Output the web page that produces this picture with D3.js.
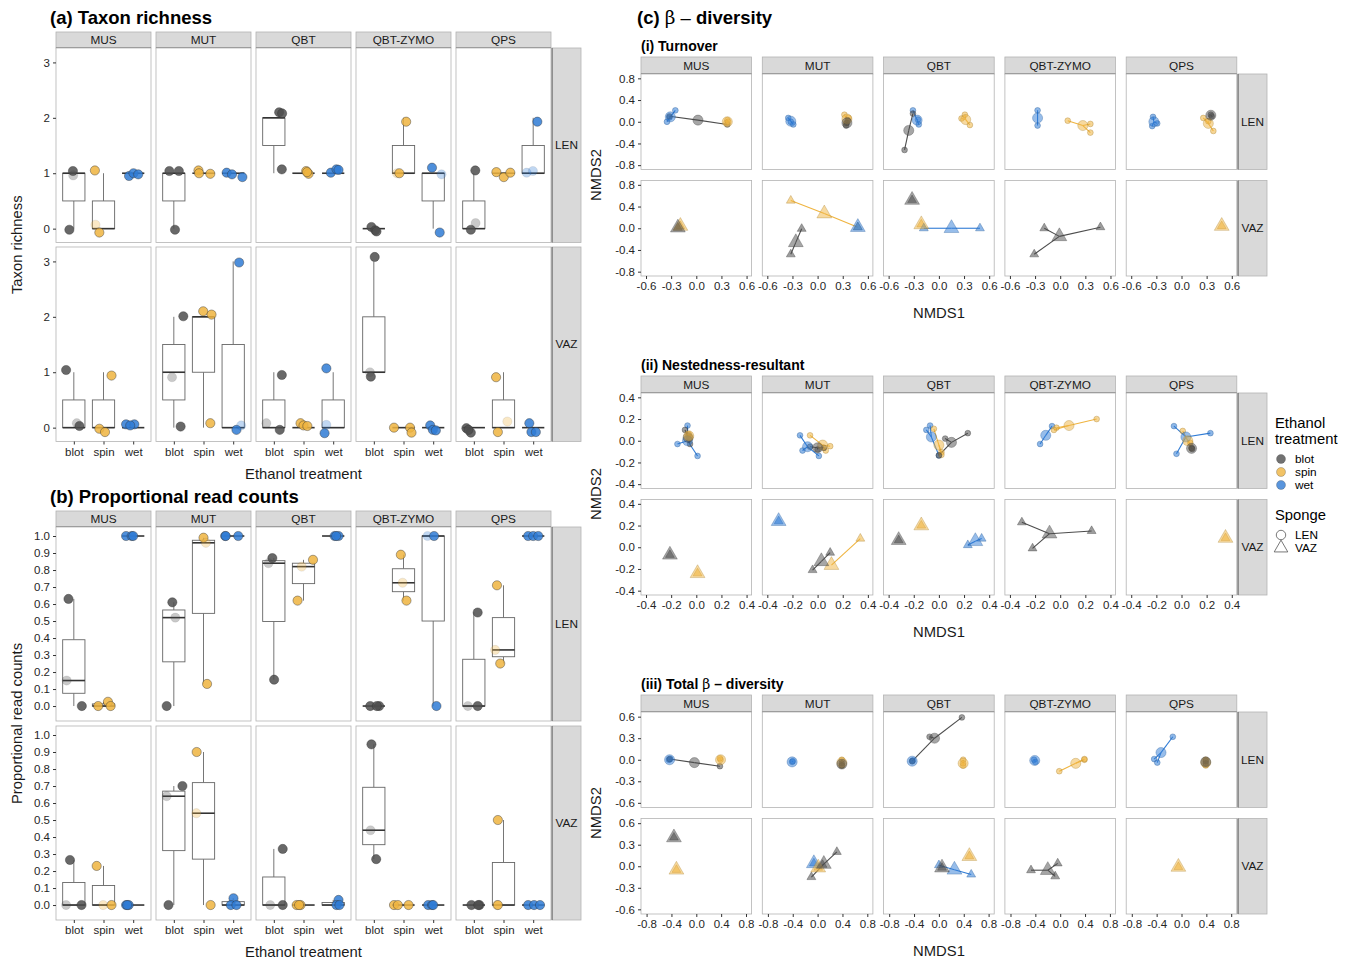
<!DOCTYPE html>
<html>
<head>
<meta charset="utf-8">
<script src="https://cdn.jsdelivr.net/npm/d3@7"></script>
<style>
  body { margin: 0; background: #fff; }
  svg { font-family: "Liberation Sans", Arial, sans-serif; }
</style>
</head>
<body>
<script>
var sites = ["MUS", "MUT", "QBT", "QBT-ZYMO", "QPS"];
var sponges = ["LEN", "VAZ"];
var treatments = ["blot", "spin", "wet"];

var richnessTicks = [0, 1, 2, 3];
var propTicks = [0, 0.1, 0.2, 0.3, 0.4, 0.5, 0.6, 0.7, 0.8, 0.9, 1.0];
var turnoverTicksX = [-0.6, -0.3, 0, 0.3, 0.6];
var turnoverTicksY = [-0.8, -0.4, 0, 0.4, 0.8];
var nestedTicks = [-0.4, -0.2, 0, 0.2, 0.4];
var totalTicksX = [-0.8, -0.4, 0, 0.4, 0.8];
var totalTicksY = [-0.6, -0.3, 0, 0.3, 0.6];

// site, sponge, treatment, jitter (x offset), shown value, faint
var richness = [
  ["MUS","LEN","blot",-0.15,-0.02,0],["MUS","LEN","blot",-0.03,1.04,0],["MUS","LEN","blot",-0.02,0.96,1],
  ["MUS","LEN","spin",-0.29,1.05,0],["MUS","LEN","spin",-0.27,0.07,1],["MUS","LEN","spin",-0.14,-0.07,0],
  ["MUS","LEN","wet",-0.14,0.95,0],["MUS","LEN","wet",0.01,1.0,0],["MUS","LEN","wet",0.17,0.98,0],
  ["MUT","LEN","blot",-0.15,1.04,0],["MUT","LEN","blot",0.17,1.04,0],["MUT","LEN","blot",0.04,-0.02,0],
  ["MUT","LEN","spin",-0.17,1.05,0],["MUT","LEN","spin",-0.15,1.0,0],["MUT","LEN","spin",0.23,0.99,0],
  ["MUT","LEN","wet",-0.22,1.01,0],["MUT","LEN","wet",-0.04,0.98,0],["MUT","LEN","wet",0.31,0.93,0],
  ["QBT","LEN","blot",0.18,2.1,0],["QBT","LEN","blot",0.28,2.08,0],["QBT","LEN","blot",0.27,1.07,0],
  ["QBT","LEN","spin",0.09,1.04,0],["QBT","LEN","spin",0.17,0.99,0],["QBT","LEN","spin",0.12,1.02,0],
  ["QBT","LEN","wet",-0.08,1.01,0],["QBT","LEN","wet",0.11,1.07,0],["QBT","LEN","wet",0.18,1.06,0],
  ["QBT-ZYMO","LEN","blot",-0.08,0.03,0],["QBT-ZYMO","LEN","blot",0.05,-0.03,0],["QBT-ZYMO","LEN","blot",0.09,-0.05,0],
  ["QBT-ZYMO","LEN","spin",0.09,1.93,0],["QBT-ZYMO","LEN","spin",-0.22,1.0,1],["QBT-ZYMO","LEN","spin",-0.14,1.0,0],
  ["QBT-ZYMO","LEN","wet",-0.04,1.1,0],["QBT-ZYMO","LEN","wet",0.28,0.98,1],["QBT-ZYMO","LEN","wet",0.22,-0.07,0],
  ["QPS","LEN","blot",0.05,1.05,0],["QPS","LEN","blot",-0.1,-0.02,0],["QPS","LEN","blot",0.06,0.1,1],
  ["QPS","LEN","spin",-0.24,1.02,0],["QPS","LEN","spin",0.01,0.93,0],["QPS","LEN","spin",0.23,1.01,0],
  ["QPS","LEN","wet",0.14,1.93,0],["QPS","LEN","wet",-0.22,1.01,1],["QPS","LEN","wet",-0.01,1.04,1],
  ["MUS","VAZ","blot",-0.26,1.04,0],["MUS","VAZ","blot",0.1,0.08,1],["MUS","VAZ","blot",0.19,0.03,0],
  ["MUS","VAZ","spin",0.27,0.94,0],["MUS","VAZ","spin",-0.14,-0.02,0],["MUS","VAZ","spin",0.05,-0.08,0],
  ["MUS","VAZ","wet",-0.24,0.06,0],["MUS","VAZ","wet",0.04,0.06,0],["MUS","VAZ","wet",-0.1,0.04,0],
  ["MUT","VAZ","blot",0.32,2.01,0],["MUT","VAZ","blot",-0.06,0.91,1],["MUT","VAZ","blot",0.23,0.02,0],
  ["MUT","VAZ","spin",-0.01,2.1,0],["MUT","VAZ","spin",0.27,2.04,0],["MUT","VAZ","spin",0.23,0.08,0],
  ["MUT","VAZ","wet",0.2,2.98,0],["MUT","VAZ","wet",0.11,-0.04,0],["MUT","VAZ","wet",0.27,0.04,1],
  ["QBT","VAZ","blot",0.27,0.95,0],["QBT","VAZ","blot",-0.25,0.08,1],["QBT","VAZ","blot",0.2,-0.04,0],
  ["QBT","VAZ","spin",-0.1,0.08,0],["QBT","VAZ","spin",0.0,0.04,0],["QBT","VAZ","spin",0.13,0.03,0],
  ["QBT","VAZ","wet",-0.23,1.07,0],["QBT","VAZ","wet",-0.23,0.05,1],["QBT","VAZ","wet",-0.29,-0.1,0],
  ["QBT-ZYMO","VAZ","blot",0.03,3.08,0],["QBT-ZYMO","VAZ","blot",-0.13,1.0,1],["QBT-ZYMO","VAZ","blot",-0.1,0.92,0],
  ["QBT-ZYMO","VAZ","spin",-0.32,0.0,0],["QBT-ZYMO","VAZ","spin",0.22,0.0,0],["QBT-ZYMO","VAZ","spin",0.27,-0.09,0],
  ["QBT-ZYMO","VAZ","wet",-0.1,0.04,0],["QBT-ZYMO","VAZ","wet",-0.01,-0.04,0],["QBT-ZYMO","VAZ","wet",0.09,-0.05,0],
  ["QPS","VAZ","blot",-0.25,-0.01,0],["QPS","VAZ","blot",-0.1,-0.09,0],["QPS","VAZ","blot",-0.18,-0.04,0],
  ["QPS","VAZ","spin",-0.25,0.91,0],["QPS","VAZ","spin",0.13,0.11,1],["QPS","VAZ","spin",-0.19,-0.08,0],
  ["QPS","VAZ","wet",-0.13,0.08,0],["QPS","VAZ","wet",-0.06,-0.08,0],["QPS","VAZ","wet",0.09,-0.08,0]
];

var proportion = [
  ["MUS","LEN","blot",-0.18,0.63,0],["MUS","LEN","blot",-0.24,0.15,1],["MUS","LEN","blot",0.27,0,0],
  ["MUS","LEN","spin",-0.18,0,0],["MUS","LEN","spin",0.15,0.025,0],["MUS","LEN","spin",0.24,0,0],
  ["MUS","LEN","wet",-0.24,1,0],["MUS","LEN","wet",-0.05,1,0],["MUS","LEN","wet",0.0,1,0],
  ["MUT","LEN","blot",-0.05,0.61,0],["MUT","LEN","blot",0.05,0.52,1],["MUT","LEN","blot",-0.24,0,0],
  ["MUT","LEN","spin",0.0,0.99,0],["MUT","LEN","spin",0.08,0.96,1],["MUT","LEN","spin",0.12,0.13,0],
  ["MUT","LEN","wet",-0.27,1,0],["MUT","LEN","wet",0.17,1,0],["MUT","LEN","wet",-0.25,1,0],
  ["QBT","LEN","blot",-0.05,0.87,0],["QBT","LEN","blot",-0.18,0.84,1],["QBT","LEN","blot",0.01,0.155,0],
  ["QBT","LEN","spin",0.32,0.86,0],["QBT","LEN","spin",-0.06,0.82,1],["QBT","LEN","spin",-0.2,0.62,0],
  ["QBT","LEN","wet",0.05,1,0],["QBT","LEN","wet",0.18,1,0],["QBT","LEN","wet",0.1,1,0],
  ["QBT-ZYMO","LEN","blot",-0.12,0,0],["QBT-ZYMO","LEN","blot",0.18,0,0],["QBT-ZYMO","LEN","blot",0.1,0,0],
  ["QBT-ZYMO","LEN","spin",-0.09,0.89,0],["QBT-ZYMO","LEN","spin",-0.03,0.725,1],["QBT-ZYMO","LEN","spin",0.1,0.62,0],
  ["QBT-ZYMO","LEN","wet",-0.19,1,1],["QBT-ZYMO","LEN","wet",0.03,1,0],["QBT-ZYMO","LEN","wet",0.11,0,0],
  ["QPS","LEN","blot",0.13,0.55,0],["QPS","LEN","blot",-0.2,0,1],["QPS","LEN","blot",0.13,0,0],
  ["QPS","LEN","spin",-0.22,0.71,0],["QPS","LEN","spin",-0.28,0.33,1],["QPS","LEN","spin",-0.11,0.25,0],
  ["QPS","LEN","wet",-0.17,1,0],["QPS","LEN","wet",0.0,1,0],["QPS","LEN","wet",0.17,1,0],
  ["MUS","VAZ","blot",-0.13,0.265,0],["MUS","VAZ","blot",-0.26,0,1],["MUS","VAZ","blot",0.26,0,0],
  ["MUS","VAZ","spin",-0.23,0.23,0],["MUS","VAZ","spin",-0.01,0,1],["MUS","VAZ","spin",0.27,0,0],
  ["MUS","VAZ","wet",-0.24,0,0],["MUS","VAZ","wet",-0.15,0,0],["MUS","VAZ","wet",-0.2,0,0],
  ["MUT","VAZ","blot",0.29,0.7,0],["MUT","VAZ","blot",-0.24,0.64,1],["MUT","VAZ","blot",-0.18,0,0],
  ["MUT","VAZ","spin",-0.23,0.9,0],["MUT","VAZ","spin",-0.24,0.54,1],["MUT","VAZ","spin",0.24,0,0],
  ["MUT","VAZ","wet",0.01,0.04,0],["MUT","VAZ","wet",-0.08,0,0],["MUT","VAZ","wet",0.11,0,0],
  ["QBT","VAZ","blot",0.3,0.33,0],["QBT","VAZ","blot",-0.12,0,1],["QBT","VAZ","blot",0.3,0,0],
  ["QBT","VAZ","spin",-0.23,0,0],["QBT","VAZ","spin",-0.1,0,0],["QBT","VAZ","spin",-0.15,0,0],
  ["QBT","VAZ","wet",0.18,0.03,0],["QBT","VAZ","wet",0.11,0,0],["QBT","VAZ","wet",0.21,0,0],
  ["QBT-ZYMO","VAZ","blot",-0.08,0.945,0],["QBT-ZYMO","VAZ","blot",-0.11,0.44,1],["QBT-ZYMO","VAZ","blot",0.08,0.27,0],
  ["QBT-ZYMO","VAZ","spin",-0.32,0,0],["QBT-ZYMO","VAZ","spin",-0.19,0,0],["QBT-ZYMO","VAZ","spin",0.17,0,0],
  ["QBT-ZYMO","VAZ","wet",-0.17,0,0],["QBT-ZYMO","VAZ","wet",-0.04,0,0],["QBT-ZYMO","VAZ","wet",0.0,0,0],
  ["QPS","VAZ","blot",-0.08,0,0],["QPS","VAZ","blot",0.19,0,0],["QPS","VAZ","blot",0.15,0,0],
  ["QPS","VAZ","spin",-0.19,0.5,0],["QPS","VAZ","spin",-0.22,0,1],["QPS","VAZ","spin",-0.19,0,0],
  ["QPS","VAZ","wet",-0.17,0,0],["QPS","VAZ","wet",0.03,0,0],["QPS","VAZ","wet",0.23,0,0]
];

// NMDS samples: site, sponge, treatment, NMDS1, NMDS2
var turnoverSamples = [
  ["MUS","LEN","wet",-0.35,0.0],["MUS","LEN","wet",-0.32,0.08],["MUS","LEN","wet",-0.25,0.21],
  ["MUS","LEN","blot",-0.32,0.1],["MUS","LEN","blot",0.37,-0.05],
  ["MUS","LEN","spin",0.37,0.03],["MUS","LEN","spin",0.36,-0.02],["MUS","LEN","spin",0.38,0.0],
  ["MUT","LEN","wet",-0.35,0.07],["MUT","LEN","wet",-0.32,0.0],["MUT","LEN","wet",-0.29,-0.05],
  ["MUT","LEN","spin",0.32,0.13],["MUT","LEN","spin",0.37,0.07],["MUT","LEN","spin",0.34,-0.03],
  ["MUT","LEN","blot",0.35,-0.02],["MUT","LEN","blot",0.34,-0.07],["MUT","LEN","blot",0.36,0.03],
  ["QBT","LEN","wet",-0.31,0.21],["QBT","LEN","wet",-0.25,0.04],["QBT","LEN","wet",-0.24,-0.05],
  ["QBT","LEN","blot",-0.41,-0.52],["QBT","LEN","blot",-0.31,0.15],
  ["QBT","LEN","spin",0.27,0.06],["QBT","LEN","spin",0.31,0.13],["QBT","LEN","spin",0.37,-0.06],
  ["QBT-ZYMO","LEN","wet",-0.27,0.21],["QBT-ZYMO","LEN","wet",-0.27,-0.07],
  ["QBT-ZYMO","LEN","spin",0.09,0.02],["QBT-ZYMO","LEN","spin",0.36,-0.04],["QBT-ZYMO","LEN","spin",0.36,-0.2],
  ["QPS","LEN","wet",-0.34,0.09],["QPS","LEN","wet",-0.35,-0.08],["QPS","LEN","wet",-0.29,-0.03],
  ["QPS","LEN","spin",0.26,0.07],["QPS","LEN","spin",0.38,-0.17],["QPS","LEN","spin",0.32,0.01],
  ["QPS","LEN","blot",0.35,0.13],["QPS","LEN","blot",0.36,0.1],
  ["MUS","VAZ","spin",-0.19,0.04],["MUS","VAZ","blot",-0.22,0.01],
  ["MUT","VAZ","spin",-0.32,0.51],["MUT","VAZ","spin",0.48,0.02],["MUT","VAZ","wet",0.48,0.02],
  ["MUT","VAZ","blot",-0.19,-0.01],["MUT","VAZ","blot",-0.32,-0.48],
  ["QBT","VAZ","blot",-0.32,0.52],["QBT","VAZ","spin",-0.21,0.07],
  ["QBT","VAZ","wet",-0.18,0.0],["QBT","VAZ","wet",0.49,0.0],
  ["QBT-ZYMO","VAZ","blot",-0.19,0.0],["QBT-ZYMO","VAZ","blot",-0.31,-0.48],["QBT-ZYMO","VAZ","blot",0.48,0.02],
  ["QPS","VAZ","spin",0.48,0.04]
];
var turnoverCentroids = [
  ["MUS","LEN","wet",-0.31,0.09],["MUS","LEN","blot",0.02,0.03],["MUS","LEN","spin",0.37,0.0],
  ["MUT","LEN","wet",-0.32,0.01],["MUT","LEN","spin",0.35,0.05],["MUT","LEN","blot",0.35,-0.02],
  ["QBT","LEN","wet",-0.26,0.03],["QBT","LEN","blot",-0.36,-0.16],["QBT","LEN","spin",0.32,0.04],
  ["QBT-ZYMO","LEN","wet",-0.27,0.07],["QBT-ZYMO","LEN","spin",0.27,-0.07],
  ["QPS","LEN","wet",-0.33,0.0],["QPS","LEN","spin",0.32,-0.03],["QPS","LEN","blot",0.35,0.12],
  ["MUS","VAZ","spin",-0.19,0.04],["MUS","VAZ","blot",-0.22,0.01],
  ["MUT","VAZ","spin",0.08,0.27],["MUT","VAZ","blot",-0.26,-0.26],["MUT","VAZ","wet",0.48,0.02],
  ["QBT","VAZ","blot",-0.32,0.52],["QBT","VAZ","spin",-0.21,0.07],["QBT","VAZ","wet",0.15,0.0],
  ["QBT-ZYMO","VAZ","blot",-0.01,-0.15],["QPS","VAZ","spin",0.48,0.04]
];

var nestedSamples = [
  ["MUS","LEN","wet",-0.07,0.14],["MUS","LEN","wet",-0.15,-0.03],["MUS","LEN","wet",0.01,-0.14],
  ["MUS","LEN","blot",-0.09,0.1],["MUS","LEN","blot",-0.05,-0.03],["MUS","LEN","blot",-0.06,0.02],
  ["MUS","LEN","spin",-0.06,0.06],["MUS","LEN","spin",-0.05,0.03],["MUS","LEN","spin",-0.065,0.04],
  ["MUT","LEN","wet",-0.14,0.05],["MUT","LEN","wet",-0.12,-0.09],["MUT","LEN","wet",0.01,-0.14],
  ["MUT","LEN","spin",-0.06,0.05],["MUT","LEN","spin",0.1,-0.05],["MUT","LEN","spin",0.065,-0.09],
  ["MUT","LEN","blot",-0.06,-0.055],["MUT","LEN","blot",0.05,-0.065],["MUT","LEN","blot",0.0,-0.08],
  ["QBT","LEN","wet",-0.07,0.14],["QBT","LEN","wet",-0.1,0.1],["QBT","LEN","wet",0.0,-0.135],
  ["QBT","LEN","spin",-0.04,0.11],["QBT","LEN","spin",0.02,-0.105],["QBT","LEN","spin",0.02,-0.13],
  ["QBT","LEN","blot",0.23,0.07],["QBT","LEN","blot",0.05,0.02],["QBT","LEN","blot",0.0,-0.135],
  ["QBT-ZYMO","LEN","wet",-0.065,0.135],["QBT-ZYMO","LEN","wet",-0.16,-0.03],
  ["QBT-ZYMO","LEN","spin",0.29,0.2],["QBT-ZYMO","LEN","spin",-0.03,0.12],["QBT-ZYMO","LEN","spin",-0.05,0.1],
  ["QPS","LEN","wet",-0.06,0.135],["QPS","LEN","wet",-0.04,-0.12],["QPS","LEN","wet",0.23,0.07],
  ["QPS","LEN","spin",0.01,0.09],["QPS","LEN","spin",0.07,-0.02],["QPS","LEN","spin",0.08,-0.07],
  ["QPS","LEN","blot",0.08,-0.065],["QPS","LEN","blot",0.085,-0.075],
  ["MUS","VAZ","blot",-0.21,-0.07],["MUS","VAZ","spin",0.01,-0.24],
  ["MUT","VAZ","wet",-0.31,0.24],["MUT","VAZ","spin",0.34,0.08],
  ["MUT","VAZ","blot",-0.04,-0.21],["MUT","VAZ","blot",0.1,-0.05],
  ["QBT","VAZ","blot",-0.32,0.065],["QBT","VAZ","spin",-0.14,0.2],
  ["QBT","VAZ","wet",0.23,0.02],["QBT","VAZ","wet",0.34,0.08],
  ["QBT-ZYMO","VAZ","blot",-0.305,0.23],["QBT-ZYMO","VAZ","blot",-0.22,-0.01],["QBT-ZYMO","VAZ","blot",0.25,0.15],
  ["QPS","VAZ","spin",0.35,0.085]
];
var nestedCentroids = [
  ["MUS","LEN","wet",-0.07,0.0],["MUS","LEN","blot",-0.065,0.03],["MUS","LEN","spin",-0.06,0.045],
  ["MUT","LEN","wet",-0.08,-0.055],["MUT","LEN","spin",0.04,-0.04],["MUT","LEN","blot",0.0,-0.065],
  ["QBT","LEN","wet",-0.06,0.035],["QBT","LEN","spin",0.0,-0.04],["QBT","LEN","blot",0.1,-0.015],
  ["QBT-ZYMO","LEN","wet",-0.115,0.05],["QBT-ZYMO","LEN","spin",0.07,0.14],
  ["QPS","LEN","wet",0.035,0.035],["QPS","LEN","spin",0.05,0.0],["QPS","LEN","blot",0.08,-0.07],
  ["MUS","VAZ","blot",-0.21,-0.07],["MUS","VAZ","spin",0.01,-0.24],
  ["MUT","VAZ","wet",-0.31,0.24],["MUT","VAZ","spin",0.11,-0.165],["MUT","VAZ","blot",0.03,-0.13],
  ["QBT","VAZ","blot",-0.32,0.065],["QBT","VAZ","spin",-0.14,0.2],["QBT","VAZ","wet",0.29,0.055],
  ["QBT-ZYMO","VAZ","blot",-0.085,0.125],["QPS","VAZ","spin",0.35,0.085]
];

var totalSamples = [
  ["MUS","LEN","wet",-0.44,0.0],["MUS","LEN","wet",-0.42,0.01],
  ["MUS","LEN","blot",-0.43,0.01],["MUS","LEN","blot",0.38,-0.09],
  ["MUS","LEN","spin",0.39,0.0],["MUS","LEN","spin",0.38,0.02],
  ["MUT","LEN","wet",-0.41,-0.03],["MUT","LEN","wet",-0.4,-0.02],
  ["MUT","LEN","spin",0.39,0.0],["MUT","LEN","spin",0.39,-0.08],
  ["MUT","LEN","blot",0.39,-0.05],["MUT","LEN","blot",0.39,-0.08],
  ["QBT","LEN","wet",-0.43,-0.02],["QBT","LEN","wet",-0.42,-0.01],
  ["QBT","LEN","blot",-0.43,-0.02],["QBT","LEN","blot",0.37,0.59],["QBT","LEN","blot",-0.15,0.32],
  ["QBT","LEN","spin",0.39,0.0],["QBT","LEN","spin",0.39,-0.08],["QBT","LEN","spin",0.39,-0.05],
  ["QBT-ZYMO","LEN","wet",-0.42,0.0],["QBT-ZYMO","LEN","wet",-0.4,-0.03],
  ["QBT-ZYMO","LEN","spin",-0.015,-0.16],["QBT-ZYMO","LEN","spin",0.39,0.0],["QBT-ZYMO","LEN","spin",0.39,0.01],
  ["QPS","LEN","wet",-0.14,0.32],["QPS","LEN","wet",-0.44,0.01],["QPS","LEN","wet",-0.39,-0.04],
  ["QPS","LEN","spin",0.39,0.0],["QPS","LEN","spin",0.39,-0.08],
  ["QPS","LEN","blot",0.39,-0.02],["QPS","LEN","blot",0.39,-0.05],
  ["MUS","VAZ","blot",-0.36,0.4],["MUS","VAZ","spin",-0.32,-0.05],
  ["MUT","VAZ","wet",-0.06,0.04],["MUT","VAZ","spin",0.01,-0.02],
  ["MUT","VAZ","blot",-0.1,-0.15],["MUT","VAZ","blot",0.31,0.2],["MUT","VAZ","blot",0.08,0.02],
  ["QBT","VAZ","wet",0.0,0.015],["QBT","VAZ","wet",0.52,-0.115],
  ["QBT","VAZ","blot",0.05,-0.02],["QBT","VAZ","spin",0.49,0.14],
  ["QBT-ZYMO","VAZ","blot",-0.47,-0.055],["QBT-ZYMO","VAZ","blot",-0.04,0.04],["QBT-ZYMO","VAZ","blot",-0.08,-0.14],
  ["QPS","VAZ","spin",-0.05,-0.01]
];
var totalCentroids = [
  ["MUS","LEN","wet",-0.43,0.0],["MUS","LEN","blot",-0.03,-0.04],["MUS","LEN","spin",0.39,0.0],
  ["MUT","LEN","wet",-0.41,-0.03],["MUT","LEN","spin",0.39,-0.04],["MUT","LEN","blot",0.39,-0.06],
  ["QBT","LEN","wet",-0.43,-0.02],["QBT","LEN","blot",-0.07,0.3],["QBT","LEN","spin",0.39,-0.05],
  ["QBT-ZYMO","LEN","wet",-0.41,-0.01],["QBT-ZYMO","LEN","spin",0.25,-0.05],
  ["QPS","LEN","wet",-0.33,0.1],["QPS","LEN","spin",0.39,-0.04],["QPS","LEN","blot",0.39,-0.03],
  ["MUS","VAZ","blot",-0.36,0.4],["MUS","VAZ","spin",-0.32,-0.05],
  ["MUT","VAZ","wet",-0.06,0.04],["MUT","VAZ","spin",0.01,-0.02],["MUT","VAZ","blot",0.1,0.03],
  ["QBT","VAZ","wet",0.25,-0.05],["QBT","VAZ","blot",0.05,-0.02],["QBT","VAZ","spin",0.49,0.14],
  ["QBT-ZYMO","VAZ","blot",-0.2,-0.055],["QPS","VAZ","spin",-0.05,-0.01]
];

var svg = d3.select("body").append("svg")
    .attr("width", 1350)
    .attr("height", 963);

var colour = d3.scaleOrdinal()
    .domain(treatments)
    .range(["#4D4D4D", "#EFB440", "#2F7BD5"]);

var stripFill = "#D9D9D9";
var borderCol = "#B3B3B3";

// R prints a plain hyphen for negatives
function dec1(v) {
    return d3.format(".1f")(v).replace("\u2212", "-");
}

function styleAxis(a) {
    a.attr("font-family", null).attr("font-size", null);
    a.select(".domain").remove();
    a.selectAll(".tick line").attr("stroke", "#333");
    a.selectAll(".tick text").attr("fill", "#262626").style("font-size", "11.5px");
}

function sameGroup(d, site, sp) {
    return d[0] === site && d[1] === sp;
}

function drawStrips(colX, colW, stripTop, stripH, rowTops, rowH, sideX) {
    sites.forEach(function (site, i) {
        svg.append("rect")
            .attr("x", colX(i)).attr("y", stripTop)
            .attr("width", colW).attr("height", stripH)
            .attr("fill", stripFill).attr("stroke", borderCol).attr("stroke-width", 0.8);
        svg.append("line")
            .attr("x1", colX(i)).attr("x2", colX(i) + colW)
            .attr("y1", stripTop + stripH).attr("y2", stripTop + stripH)
            .attr("stroke", "#555").attr("stroke-width", 1);
        svg.append("text")
            .attr("x", colX(i) + colW / 2).attr("y", stripTop + stripH / 2 + 4)
            .attr("text-anchor", "middle")
            .style("font-size", "11.8px").attr("fill", "#1A1A1A")
            .text(site);
    });
    sponges.forEach(function (sp, j) {
        svg.append("rect")
            .attr("x", sideX).attr("y", rowTops[j])
            .attr("width", 29).attr("height", rowH)
            .attr("fill", stripFill).attr("stroke", borderCol).attr("stroke-width", 0.8);
        svg.append("line")
            .attr("x1", sideX).attr("x2", sideX)
            .attr("y1", rowTops[j]).attr("y2", rowTops[j] + rowH)
            .attr("stroke", "#555").attr("stroke-width", 1);
        svg.append("text")
            .attr("x", sideX + 14.5).attr("y", rowTops[j] + rowH / 2 + 4)
            .attr("text-anchor", "middle")
            .style("font-size", "11.8px").attr("fill", "#1A1A1A")
            .text(sp);
    });
}

function boxFacets(opt) {
    var colW = 95, stripH = 16;
    var colX = function (i) { return 56 + i * 100; };
    var x = d3.scaleLinear().domain([0.4, 3.6]).range([0, colW]);
    var y = d3.scaleLinear().domain(opt.yDomain).range([opt.rowH, 0]);

    svg.append("text")
        .attr("x", 50).attr("y", opt.titleY)
        .style("font-size", "18.5px").style("font-weight", "bold")
        .text(opt.title);

    drawStrips(colX, colW, opt.stripTop, stripH, opt.rowTops, opt.rowH, 552);

    sites.forEach(function (site, i) {
        sponges.forEach(function (sp, j) {
            var g = svg.append("g")
                .attr("transform", "translate(" + colX(i) + "," + opt.rowTops[j] + ")");
            g.append("rect")
                .attr("width", colW).attr("height", opt.rowH)
                .attr("fill", "#fff").attr("stroke", borderCol).attr("stroke-width", 0.8);

            if (i === 0) {
                g.append("g")
                    .call(d3.axisLeft(y).tickValues(opt.yTicks).tickSize(3).tickFormat(opt.fmt))
                    .call(styleAxis);
            }
            if (j === 1) {
                g.append("g")
                    .attr("transform", "translate(0," + opt.rowH + ")")
                    .call(d3.axisBottom(x).tickValues([1, 2, 3]).tickSize(3)
                        .tickFormat(function (v) { return treatments[v - 1]; }))
                    .call(styleAxis);
            }

            treatments.forEach(function (tr, k) {
                var pts = opt.points.filter(function (d) { return sameGroup(d, site, sp) && d[2] === tr; });
                var vals = pts.map(opt.value).sort(d3.ascending);
                var q1 = d3.quantile(vals, 0.25);
                var q2 = d3.quantile(vals, 0.5);
                var q3 = d3.quantile(vals, 0.75);
                var iqr = q3 - q1;
                var lo = d3.min(vals.filter(function (v) { return v >= q1 - 1.5 * iqr; }));
                var hi = d3.max(vals.filter(function (v) { return v <= q3 + 1.5 * iqr; }));
                var cx = x(k + 1);
                var half = x(k + 1.375) - cx;

                g.append("line").attr("x1", cx).attr("x2", cx)
                    .attr("y1", y(hi)).attr("y2", y(q3))
                    .attr("stroke", "#666").attr("stroke-width", 0.9);
                g.append("line").attr("x1", cx).attr("x2", cx)
                    .attr("y1", y(q1)).attr("y2", y(lo))
                    .attr("stroke", "#666").attr("stroke-width", 0.9);
                g.append("rect")
                    .attr("x", cx - half).attr("y", y(q3))
                    .attr("width", half * 2).attr("height", Math.max(0, y(q1) - y(q3)))
                    .attr("fill", "#fff").attr("stroke", "#666").attr("stroke-width", 0.9);
                g.append("line").attr("x1", cx - half).attr("x2", cx + half)
                    .attr("y1", y(q2)).attr("y2", y(q2))
                    .attr("stroke", "#333").attr("stroke-width", 1.6);

                g.selectAll(null)
                    .data(pts)
                    .enter()
                    .append("circle")
                    .attr("cx", function (d) { return x(k + 1 + d[3]); })
                    .attr("cy", function (d) { return y(d[4]); })
                    .attr("r", 4.6)
                    .attr("fill", colour(tr))
                    .attr("fill-opacity", function (d) { return d[5] ? 0.3 : 0.85; })
                    .attr("stroke", "#333")
                    .attr("stroke-opacity", function (d) { return d[5] ? 0.15 : 0.7; })
                    .attr("stroke-width", 0.6);
            });
        });
    });

    var bottom = opt.rowTops[1] + opt.rowH;
    svg.append("text")
        .attr("x", 303.5).attr("y", bottom + 37)
        .attr("text-anchor", "middle")
        .style("font-size", "14.8px").attr("fill", "#1A1A1A")
        .text("Ethanol treatment");
    svg.append("text")
        .attr("transform", "translate(22," + ((opt.rowTops[0] + bottom) / 2) + ") rotate(-90)")
        .attr("text-anchor", "middle")
        .style("font-size", "14.8px").attr("fill", "#1A1A1A")
        .text(opt.yTitle);
}

function nmdsFacets(opt) {
    var colW = 110.6, stripH = 17, rowH = 95.5;
    var colX = function (i) { return 641 + i * 121.3; };
    var x = d3.scaleLinear().domain(opt.xDomain).range([0, colW]);
    var y = d3.scaleLinear().domain(opt.yDomain).range([rowH, 0]);

    var sub = svg.append("text")
        .attr("x", 641).attr("y", opt.stripTop - 6)
        .style("font-size", "14px").style("font-weight", "bold");
    opt.subtitle.forEach(function (part) {
        sub.append("tspan")
            .style("font-family", part[1] ? "'DejaVu Serif', serif" : null)
            .style("font-weight", part[1] ? "normal" : null)
            .text(part[0]);
    });

    drawStrips(colX, colW, opt.stripTop, stripH, opt.rowTops, rowH, 1238);

    sites.forEach(function (site, i) {
        sponges.forEach(function (sp, j) {
            var g = svg.append("g")
                .attr("transform", "translate(" + colX(i) + "," + opt.rowTops[j] + ")");
            g.append("rect")
                .attr("width", colW).attr("height", rowH)
                .attr("fill", "#fff").attr("stroke", borderCol).attr("stroke-width", 0.8);

            if (i === 0) {
                g.append("g")
                    .call(d3.axisLeft(y).tickValues(opt.yTicks).tickSize(3).tickFormat(dec1))
                    .call(styleAxis);
            }
            if (j === 1) {
                g.append("g")
                    .attr("transform", "translate(0," + rowH + ")")
                    .call(d3.axisBottom(x).tickValues(opt.xTicks).tickSize(3).tickFormat(dec1))
                    .call(styleAxis);
            }

            var cents = opt.centroids.filter(function (d) { return sameGroup(d, site, sp); });
            var samp = opt.samples.filter(function (d) { return sameGroup(d, site, sp); });
            var centOf = function (d) {
                return cents.find(function (c) { return c[2] === d[2]; });
            };
            var shape = sp === "LEN" ? d3.symbolCircle : d3.symbolTriangle;

            g.selectAll(null)
                .data(samp)
                .enter()
                .append("line")
                .attr("x1", function (d) { return x(d[3]); })
                .attr("y1", function (d) { return y(d[4]); })
                .attr("x2", function (d) { return x(centOf(d)[3]); })
                .attr("y2", function (d) { return y(centOf(d)[4]); })
                .attr("stroke", function (d) { return colour(d[2]); })
                .attr("stroke-width", 1.1);

            g.selectAll(null)
                .data(samp)
                .enter()
                .append("path")
                .attr("d", d3.symbol().type(shape).size(sp === "LEN" ? 26 : 34))
                .attr("transform", function (d) { return "translate(" + x(d[3]) + "," + y(d[4]) + ")"; })
                .attr("fill", function (d) { return colour(d[2]); })
                .attr("fill-opacity", 0.55)
                .attr("stroke", function (d) { return d3.color(colour(d[2])).darker(1); })
                .attr("stroke-opacity", 0.6)
                .attr("stroke-width", 0.6);

            g.selectAll(null)
                .data(cents)
                .enter()
                .append("path")
                .attr("d", d3.symbol().type(shape).size(sp === "LEN" ? 80 : 95))
                .attr("transform", function (d) { return "translate(" + x(d[3]) + "," + y(d[4]) + ")"; })
                .attr("fill", function (d) { return colour(d[2]); })
                .attr("fill-opacity", 0.5)
                .attr("stroke", function (d) { return d3.color(colour(d[2])).darker(1); })
                .attr("stroke-opacity", 0.45)
                .attr("stroke-width", 0.7);
        });
    });

    var bottom = opt.rowTops[1] + rowH;
    svg.append("text")
        .attr("x", 939).attr("y", bottom + 42)
        .attr("text-anchor", "middle")
        .style("font-size", "14.8px").attr("fill", "#1A1A1A")
        .text("NMDS1");
    svg.append("text")
        .attr("transform", "translate(601," + ((opt.rowTops[0] + bottom) / 2) + ") rotate(-90)")
        .attr("text-anchor", "middle")
        .style("font-size", "14.8px").attr("fill", "#1A1A1A")
        .text("NMDS2");
}

// (a) and (b)
boxFacets({
    title: "(a) Taxon richness", titleY: 24,
    points: richness, value: function (d) { return Math.round(d[4]); },
    yDomain: [-0.25, 3.26], yTicks: richnessTicks, fmt: d3.format("d"),
    stripTop: 32, rowTops: [48, 247], rowH: 194.5,
    yTitle: "Taxon richness"
});
boxFacets({
    title: "(b) Proportional read counts", titleY: 503,
    points: proportion, value: function (d) { return d[4]; },
    yDomain: [-0.088, 1.053], yTicks: propTicks, fmt: dec1,
    stripTop: 511, rowTops: [527, 726], rowH: 194,
    yTitle: "Proportional read counts"
});

// (c) title
var ct = svg.append("text")
    .attr("x", 637).attr("y", 24)
    .style("font-size", "18.5px").style("font-weight", "bold");
ct.append("tspan").text("(c) ");
ct.append("tspan").style("font-family", "'DejaVu Serif', serif").style("font-weight", "normal").text("β");
ct.append("tspan").style("font-weight", "normal").text(" – ");
ct.append("tspan").text("diversity");

nmdsFacets({
    subtitle: [["(i) Turnover", false]],
    samples: turnoverSamples, centroids: turnoverCentroids,
    xDomain: [-0.66, 0.66], yDomain: [-0.88, 0.88],
    xTicks: turnoverTicksX, yTicks: turnoverTicksY,
    stripTop: 57, rowTops: [74, 180.5]
});
nmdsFacets({
    subtitle: [["(ii) Nestedness-resultant", false]],
    samples: nestedSamples, centroids: nestedCentroids,
    xDomain: [-0.44, 0.44], yDomain: [-0.44, 0.44],
    xTicks: nestedTicks, yTicks: nestedTicks,
    stripTop: 376, rowTops: [393, 499.5]
});
nmdsFacets({
    subtitle: [["(iii) Total ", false], ["β", true], [" – ", false], ["diversity", false]],
    samples: totalSamples, centroids: totalCentroids,
    xDomain: [-0.89, 0.89], yDomain: [-0.665, 0.665],
    xTicks: totalTicksX, yTicks: totalTicksY,
    stripTop: 695, rowTops: [712, 818.5]
});

// legend
var leg = svg.append("g");
leg.append("text").attr("x", 1275).attr("y", 428).style("font-size", "14.8px").text("Ethanol");
leg.append("text").attr("x", 1275).attr("y", 444).style("font-size", "14.8px").text("treatment");
treatments.forEach(function (tr, k) {
    leg.append("circle")
        .attr("cx", 1281).attr("cy", 459 + k * 13).attr("r", 4.5)
        .attr("fill", colour(tr)).attr("fill-opacity", 0.8)
        .attr("stroke", "#444").attr("stroke-opacity", 0.5).attr("stroke-width", 0.6);
    leg.append("text").attr("x", 1295).attr("y", 463 + k * 13)
        .style("font-size", "11.8px").text(tr);
});
leg.append("text").attr("x", 1275).attr("y", 520).style("font-size", "14.8px").text("Sponge");
sponges.forEach(function (sp, k) {
    leg.append("path")
        .attr("d", d3.symbol().type(k === 0 ? d3.symbolCircle : d3.symbolTriangle).size(k === 0 ? 70 : 80))
        .attr("transform", "translate(1281," + (535 + k * 13) + ")")
        .attr("fill", "none").attr("stroke", "#555").attr("stroke-width", 0.8);
    leg.append("text").attr("x", 1295).attr("y", 539 + k * 13)
        .style("font-size", "11.8px").text(sp);
});
</script>
</body>
</html>
